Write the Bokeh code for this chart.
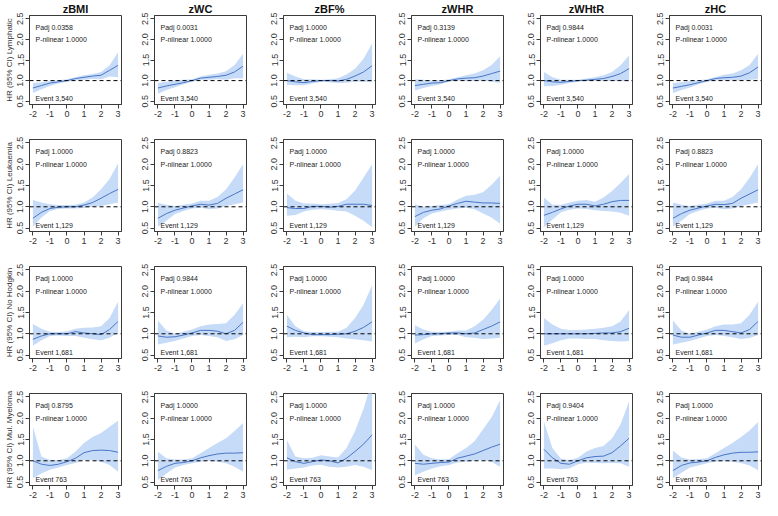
from bokeh.plotting import figure
from bokeh.layouts import gridplot
from bokeh.models import FixedTicker, Span
from bokeh.core.properties import value
from bokeh.embed import file_html
from bokeh.resources import INLINE

# ---------------- data ----------------
x_vals = [-2, -1.5, -1, -0.5, 0, 0.5, 1, 1.5, 2, 2.5, 3]
exposures = ["zBMI", "zWC", "zBF%", "zWHR", "zWHtR", "zHC"]
outcomes = ["Lymphatic", "Leukaemia", "No Hodgkin", "Mul. Myeloma"]
events = ["Event 3,540", "Event 1,129", "Event 1,681", "Event 763"]
padj = [
    ["0.0358", "0.0031", "1.0000", "0.3139", "0.9844", "0.0031"],
    ["1.0000", "0.8823", "1.0000", "1.0000", "1.0000", "0.8823"],
    ["1.0000", "0.9844", "1.0000", "1.0000", "1.0000", "0.9844"],
    ["0.8795", "1.0000", "1.0000", "1.0000", "0.9404", "1.0000"],
]
p_nlinear = "1.0000"
x_ticks = [-2, -1, 0, 1, 2, 3]
x_tick_labels = ["-2", "-1", "0", "1", "2", "3"]
y_ticks = [0.5, 1.0, 1.5, 2.0, 2.5]
y_tick_labels = ["0.5", "1.0", "1.5", "2.0", "2.5"]

# Lymphatic
hr_lym_bmi = [0.82, 0.88, 0.94, 0.97, 1.0, 1.05, 1.08, 1.11, 1.13, 1.25, 1.37]
up_lym_bmi = [0.94, 0.96, 0.99, 1.01, 1.03, 1.08, 1.13, 1.16, 1.21, 1.37, 1.69]
lo_lym_bmi = [0.70, 0.79, 0.87, 0.93, 0.97, 1.01, 1.02, 1.04, 1.03, 1.10, 1.08]
hr_lym_wc = [0.82, 0.87, 0.91, 0.95, 1.0, 1.06, 1.08, 1.10, 1.13, 1.21, 1.35]
up_lym_wc = [0.94, 0.97, 1.0, 1.02, 1.03, 1.10, 1.14, 1.17, 1.23, 1.38, 1.65]
lo_lym_wc = [0.68, 0.77, 0.84, 0.91, 0.97, 1.02, 1.02, 1.03, 1.02, 1.06, 1.06]
hr_lym_bf = [1.0, 0.97, 0.95, 0.98, 1.0, 1.0, 0.99, 1.03, 1.11, 1.21, 1.36]
up_lym_bf = [1.19, 1.10, 1.03, 1.03, 1.02, 1.03, 1.06, 1.15, 1.29, 1.53, 1.90]
lo_lym_bf = [0.90, 0.89, 0.89, 0.93, 0.97, 0.96, 0.94, 0.95, 0.98, 0.97, 0.96]
hr_lym_whr = [0.88, 0.91, 0.94, 0.95, 1.0, 1.04, 1.06, 1.07, 1.11, 1.17, 1.23]
up_lym_whr = [1.03, 1.02, 1.0, 1.01, 1.03, 1.08, 1.13, 1.17, 1.25, 1.38, 1.59]
lo_lym_whr = [0.76, 0.82, 0.87, 0.91, 0.97, 1.0, 0.99, 0.99, 1.0, 0.98, 0.94]
hr_lym_whtr = [1.0, 0.97, 0.96, 0.98, 1.0, 1.01, 1.03, 1.05, 1.10, 1.17, 1.29]
up_lym_whtr = [1.21, 1.08, 1.02, 1.02, 1.02, 1.05, 1.08, 1.13, 1.21, 1.37, 1.61]
lo_lym_whtr = [0.86, 0.87, 0.90, 0.94, 0.97, 0.99, 0.99, 0.99, 0.99, 0.99, 0.98]
hr_lym_hc = [0.82, 0.86, 0.90, 0.95, 1.0, 1.05, 1.07, 1.08, 1.11, 1.19, 1.33]
up_lym_hc = [0.94, 0.96, 0.99, 1.01, 1.03, 1.09, 1.14, 1.17, 1.25, 1.38, 1.65]
lo_lym_hc = [0.70, 0.77, 0.83, 0.91, 0.97, 1.01, 1.0, 1.01, 1.0, 1.02, 1.03]

# Leukaemia
hr_leu_bmi = [0.73, 0.87, 0.96, 0.99, 1.0, 1.0, 1.04, 1.10, 1.20, 1.31, 1.41]
up_leu_bmi = [1.16, 1.10, 1.06, 1.04, 1.04, 1.05, 1.10, 1.22, 1.41, 1.65, 2.02]
lo_leu_bmi = [0.53, 0.75, 0.90, 0.95, 0.96, 0.96, 0.97, 1.0, 1.02, 1.06, 1.10]
hr_leu_wc = [0.73, 0.84, 0.92, 0.97, 1.02, 1.06, 1.04, 1.08, 1.20, 1.30, 1.40]
up_leu_wc = [1.09, 1.05, 1.02, 1.05, 1.08, 1.14, 1.14, 1.23, 1.41, 1.69, 2.0]
lo_leu_wc = [0.53, 0.67, 0.83, 0.90, 0.96, 0.98, 0.94, 0.96, 1.02, 1.06, 1.10]
hr_leu_bf = [0.98, 0.96, 0.96, 1.01, 1.01, 0.99, 1.01, 1.06, 1.06, 1.06, 1.03]
up_leu_bf = [1.31, 1.14, 1.08, 1.08, 1.06, 1.07, 1.09, 1.18, 1.38, 1.69, 2.0]
lo_leu_bf = [0.79, 0.81, 0.89, 0.93, 0.94, 0.93, 0.91, 0.89, 0.79, 0.67, 0.52]
hr_leu_whr = [0.77, 0.87, 0.92, 0.95, 1.02, 1.08, 1.13, 1.11, 1.09, 1.09, 1.08]
up_leu_whr = [1.06, 1.00, 1.02, 1.04, 1.06, 1.17, 1.26, 1.28, 1.34, 1.52, 1.73]
lo_leu_whr = [0.53, 0.73, 0.84, 0.89, 0.93, 0.96, 0.98, 0.94, 0.84, 0.75, 0.60]
hr_leu_whtr = [0.80, 0.87, 0.95, 1.02, 1.06, 1.06, 1.02, 1.06, 1.12, 1.15, 1.15]
up_leu_whtr = [1.22, 1.05, 1.05, 1.10, 1.14, 1.16, 1.12, 1.22, 1.37, 1.56, 1.77]
lo_leu_whtr = [0.52, 0.70, 0.87, 0.93, 0.96, 0.95, 0.92, 0.90, 0.89, 0.86, 0.79]
hr_leu_hc = [0.73, 0.84, 0.92, 0.97, 1.02, 1.06, 1.05, 1.08, 1.20, 1.30, 1.40]
up_leu_hc = [1.10, 1.05, 1.02, 1.05, 1.08, 1.14, 1.14, 1.23, 1.41, 1.68, 2.0]
lo_leu_hc = [0.53, 0.67, 0.83, 0.90, 0.96, 0.98, 0.94, 0.96, 1.02, 1.06, 1.10]

# Non-Hodgkin
hr_nh_bmi = [0.87, 0.95, 1.0, 1.0, 1.0, 1.05, 1.02, 1.0, 0.98, 1.10, 1.29]
up_nh_bmi = [1.23, 1.12, 1.05, 1.04, 1.06, 1.12, 1.14, 1.15, 1.18, 1.37, 1.75]
lo_nh_bmi = [0.72, 0.85, 0.95, 0.96, 0.95, 0.95, 0.91, 0.87, 0.85, 0.91, 1.02]
hr_nh_wc = [0.95, 0.92, 0.93, 0.97, 1.02, 1.08, 1.08, 1.06, 1.0, 1.08, 1.27]
up_nh_wc = [1.31, 1.08, 1.0, 1.05, 1.10, 1.18, 1.22, 1.23, 1.25, 1.45, 1.72]
lo_nh_wc = [0.75, 0.79, 0.83, 0.89, 0.95, 0.97, 0.95, 0.92, 0.83, 0.87, 0.97]
hr_nh_bf = [1.18, 1.08, 1.02, 0.98, 0.98, 0.98, 0.99, 1.0, 1.06, 1.15, 1.28]
up_nh_bf = [1.45, 1.18, 1.06, 1.04, 1.04, 1.05, 1.05, 1.14, 1.37, 1.68, 2.14]
lo_nh_bf = [0.92, 0.93, 0.92, 0.94, 0.94, 0.93, 0.92, 0.89, 0.87, 0.85, 0.82]
hr_nh_whr = [0.97, 0.98, 1.0, 1.0, 1.02, 1.02, 1.0, 1.02, 1.10, 1.18, 1.28]
up_nh_whr = [1.20, 1.10, 1.05, 1.05, 1.05, 1.08, 1.08, 1.18, 1.33, 1.56, 1.83]
lo_nh_whr = [0.77, 0.87, 0.95, 0.96, 0.97, 0.97, 0.92, 0.91, 0.88, 0.89, 0.91]
hr_nh_whtr = [1.0, 1.0, 1.0, 1.0, 1.0, 1.0, 1.01, 1.02, 1.02, 1.05, 1.13]
up_nh_whtr = [1.37, 1.22, 1.12, 1.09, 1.09, 1.10, 1.12, 1.14, 1.18, 1.29, 1.56]
lo_nh_whtr = [0.72, 0.78, 0.85, 0.89, 0.89, 0.88, 0.88, 0.85, 0.83, 0.82, 0.83]
hr_nh_hc = [0.97, 0.92, 0.92, 0.97, 1.02, 1.08, 1.08, 1.05, 1.02, 1.10, 1.29]
up_nh_hc = [1.31, 1.08, 1.0, 1.05, 1.10, 1.18, 1.22, 1.22, 1.25, 1.45, 1.75]
lo_nh_hc = [0.75, 0.79, 0.83, 0.89, 0.95, 0.97, 0.95, 0.92, 0.88, 0.90, 0.97]

# Multiple myeloma
hr_mm_bmi = [1.0, 0.92, 0.89, 0.92, 0.98, 1.06, 1.19, 1.24, 1.25, 1.24, 1.20]
up_mm_bmi = [1.80, 1.10, 1.02, 1.02, 1.06, 1.22, 1.42, 1.56, 1.65, 1.80, 1.94]
lo_mm_bmi = [0.59, 0.70, 0.79, 0.84, 0.90, 0.95, 1.02, 1.02, 0.98, 0.90, 0.74]
hr_mm_wc = [0.77, 0.87, 0.94, 0.96, 1.0, 1.07, 1.12, 1.16, 1.18, 1.18, 1.19]
up_mm_wc = [1.21, 1.06, 1.03, 1.03, 1.06, 1.18, 1.30, 1.42, 1.53, 1.70, 1.89]
lo_mm_wc = [0.55, 0.70, 0.84, 0.90, 0.94, 0.98, 1.0, 0.98, 0.94, 0.86, 0.74]
hr_mm_bf = [1.07, 0.98, 0.94, 0.98, 1.02, 1.0, 0.95, 1.06, 1.22, 1.39, 1.61]
up_mm_bf = [1.48, 1.10, 1.06, 1.07, 1.13, 1.10, 1.08, 1.30, 1.70, 2.22, 2.90]
lo_mm_bf = [0.79, 0.82, 0.84, 0.89, 0.91, 0.86, 0.84, 0.86, 0.90, 0.86, 0.78]
hr_mm_whr = [0.94, 0.92, 0.94, 0.96, 0.97, 1.06, 1.11, 1.16, 1.24, 1.32, 1.39]
up_mm_whr = [1.38, 1.14, 1.06, 1.03, 1.04, 1.18, 1.30, 1.46, 1.74, 2.02, 2.42]
lo_mm_whr = [0.66, 0.74, 0.82, 0.87, 0.90, 0.96, 0.98, 1.0, 1.02, 0.98, 0.86]
hr_mm_whtr = [1.27, 1.07, 0.94, 0.92, 1.0, 1.07, 1.10, 1.11, 1.19, 1.35, 1.53]
up_mm_whtr = [1.92, 1.30, 1.05, 1.02, 1.07, 1.22, 1.30, 1.35, 1.53, 1.86, 2.39]
lo_mm_whtr = [0.82, 0.82, 0.80, 0.82, 0.92, 0.96, 0.95, 0.94, 0.95, 0.94, 0.86]
hr_mm_hc = [0.77, 0.89, 0.95, 0.97, 1.0, 1.08, 1.14, 1.18, 1.20, 1.20, 1.21]
up_mm_hc = [1.24, 1.08, 1.03, 1.04, 1.06, 1.18, 1.30, 1.42, 1.56, 1.71, 1.91]
lo_mm_hc = [0.59, 0.72, 0.84, 0.89, 0.94, 0.98, 0.99, 0.98, 0.95, 0.89, 0.78]

curves = [
    [(hr_lym_bmi, lo_lym_bmi, up_lym_bmi), (hr_lym_wc, lo_lym_wc, up_lym_wc),
     (hr_lym_bf, lo_lym_bf, up_lym_bf), (hr_lym_whr, lo_lym_whr, up_lym_whr),
     (hr_lym_whtr, lo_lym_whtr, up_lym_whtr), (hr_lym_hc, lo_lym_hc, up_lym_hc)],
    [(hr_leu_bmi, lo_leu_bmi, up_leu_bmi), (hr_leu_wc, lo_leu_wc, up_leu_wc),
     (hr_leu_bf, lo_leu_bf, up_leu_bf), (hr_leu_whr, lo_leu_whr, up_leu_whr),
     (hr_leu_whtr, lo_leu_whtr, up_leu_whtr), (hr_leu_hc, lo_leu_hc, up_leu_hc)],
    [(hr_nh_bmi, lo_nh_bmi, up_nh_bmi), (hr_nh_wc, lo_nh_wc, up_nh_wc),
     (hr_nh_bf, lo_nh_bf, up_nh_bf), (hr_nh_whr, lo_nh_whr, up_nh_whr),
     (hr_nh_whtr, lo_nh_whtr, up_nh_whtr), (hr_nh_hc, lo_nh_hc, up_nh_hc)],
    [(hr_mm_bmi, lo_mm_bmi, up_mm_bmi), (hr_mm_wc, lo_mm_wc, up_mm_wc),
     (hr_mm_bf, lo_mm_bf, up_mm_bf), (hr_mm_whr, lo_mm_whr, up_mm_whr),
     (hr_mm_whtr, lo_mm_whtr, up_mm_whtr), (hr_mm_hc, lo_mm_hc, up_mm_hc)],
]

# ---------------- layout / style ----------------
FONT = "Liberation Sans"
FRAME = 92
LEFT = [29, 29, 33, 32, 33, 33]
RIGHT = [4, 4, 4, 4, 4, 1]
TOP = [12, 19, 19, 19]
BOTTOM = [16, 16, 16, 15]
BAND = "#c6dbf7"
LINE = "#4a76c6"
AX = "#3a3a3a"

rows = []
for r, outcome in enumerate(outcomes):
    row = []
    for c, expo in enumerate(exposures):
        hr, lo, up = curves[r][c]
        p = figure(width=LEFT[c] + FRAME + RIGHT[c], height=TOP[r] + FRAME + BOTTOM[r],
                   x_range=(-2.2, 3.2), y_range=(0.42, 2.58),
                   output_backend="svg", toolbar_location=None,
                   min_border_left=LEFT[c], min_border_right=RIGHT[c],
                   min_border_top=TOP[r], min_border_bottom=BOTTOM[r])
        if r == 0:
            p.title.text = expo
            p.title.align = "center"
            p.title.text_font = FONT
            p.title.text_font_size = "11px"
            p.title.text_font_style = "bold"
            p.title.text_color = "#111111"
            p.title.standoff = 1
            p.title.offset = 0
        p.grid.visible = False
        p.outline_line_color = AX
        p.outline_line_width = 1
        p.background_fill_color = "white"
        p.border_fill_color = "white"

        p.varea(x=x_vals, y1=lo, y2=up, fill_color=BAND, fill_alpha=1.0)
        p.line(x=x_vals, y=hr, line_color=LINE, line_width=1)
        p.add_layout(Span(location=1.0, dimension="width", line_color="black",
                          line_dash="4 3", line_width=1))

        p.text(x=[-1.85], y=[2.3], text=["Padj " + padj[r][c]],
               text_font=value(FONT), text_font_size="7px",
               text_baseline="middle", text_color="#222222")
        p.text(x=[-1.85], y=[1.99], text=["P-nlinear " + p_nlinear],
               text_font=value(FONT), text_font_size="7px",
               text_baseline="middle", text_color="#222222")
        p.text(x=[-1.85], y=[0.57], text=[events[r]],
               text_font=value(FONT), text_font_size="7px",
               text_baseline="middle", text_color="#222222")

        p.xaxis.ticker = FixedTicker(ticks=x_ticks)
        p.xaxis.major_label_overrides = dict(zip(x_ticks, x_tick_labels))
        p.yaxis.ticker = FixedTicker(ticks=y_ticks)
        p.yaxis.major_label_overrides = dict(zip(y_ticks, y_tick_labels))
        p.yaxis.major_label_orientation = "parallel"
        for ax in (p.xaxis, p.yaxis):
            ax.axis_line_color = AX
            ax.major_tick_line_color = AX
            ax.major_tick_out = 4
            ax.major_tick_in = 0
            ax.minor_tick_line_color = None
            ax.major_label_text_font = FONT
            ax.major_label_text_font_size = "9px"
            ax.major_label_text_color = "#333333"
            ax.major_label_standoff = 2
        if c == 0:
            p.yaxis.axis_label = "HR (95% CI) " + outcome
            p.yaxis.axis_label_text_font = FONT
            p.yaxis.axis_label_text_font_size = "8px"
            p.yaxis.axis_label_text_font_style = "normal"
            p.yaxis.axis_label_text_color = "#333333"
            p.yaxis.axis_label_standoff = 1
        row.append(p)
    rows.append(row)

grid = gridplot(rows, toolbar_location=None)
open("out.html", "w").write(file_html(grid, INLINE))
